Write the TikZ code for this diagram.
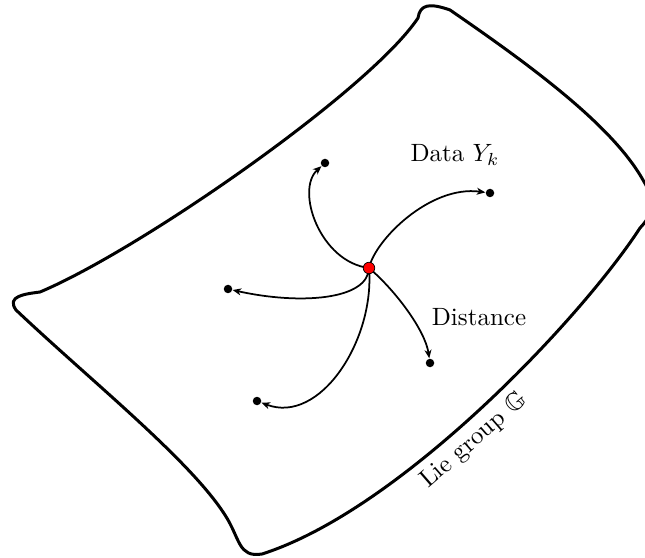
\documentclass[tikz,border=0pt]{standalone}
\usepackage{amsmath, amssymb, amsfonts}
\usetikzlibrary{arrows.meta, positioning}

\begin{document}
\begin{tikzpicture}[
    x=0.4pt, y=-0.4pt,
    every node/.style={font=\normalsize, align=center},
    rim/.style={draw=black, line width=1.2pt, line join=round},
    sample/.style={circle, fill=black, inner sep=0pt, minimum size=3.4pt},
    base/.style={circle, draw=black, fill=red, line width=0.3pt, inner sep=0pt, minimum size=4.6pt},
    geo/.style={-{Stealth[length=3.4pt, width=2.8pt, inset=1pt]}, draw=black, line width=0.7pt}
  ]
    \useasboundingbox (0,0) rectangle (645,558);

    % Manifold outline
    \draw[rim] (40,292)
      .. controls (25,294) and (6,296) .. (16,310)
      .. controls (90,380) and (190,460) .. (225,515)
      .. controls (240,538) and (238,558) .. (262,554)
      .. controls (400,510) and (580,320) .. (640,228)
      .. controls (655,212) and (655,200) .. (643,180)
      .. controls (612,125) and (530,65) .. (450,10)
      .. controls (430,3) and (420,4) .. (418,18)
      .. controls (370,90) and (140,250) .. cycle;

    % Data points
    \node[sample] (y1) at (325,163) {};
    \node[sample] (y2) at (490,193) {};
    \node[sample] (y3) at (228,289) {};
    \node[sample] (y4) at (430,363) {};
    \node[sample] (y5) at (257,401) {};

    % Labels
    \node (data) at (455,155) {Data $Y_k$};
    \node (dist) at (479,317) {Distance};
    \node[rotate=41] (lie) at (474,441) {Lie group $\mathbb{G}$};

    % Geodesics
    \draw[geo] (369,268) .. controls (320,262) and (295,190) .. (y1);
    \draw[geo] (369,268) .. controls (375,240) and (430,185) .. (y2);
    \draw[geo] (369,268) .. controls (368,300) and (300,305) .. (y3);
    \draw[geo] (369,268) .. controls (395,290) and (425,330) .. (y4);
    \draw[geo] (369,268) .. controls (375,340) and (320,425) .. (y5);

    \node[base] (mu) at (369,268) {};
  \end{tikzpicture}
\end{document}
